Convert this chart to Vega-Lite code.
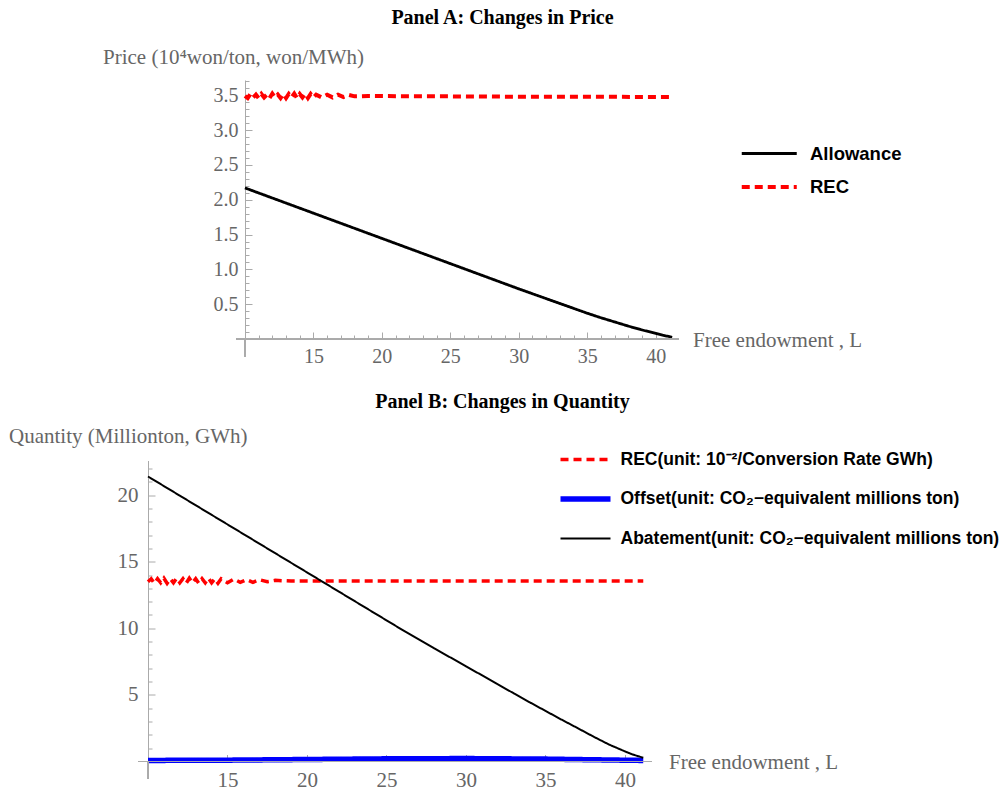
{
  "$schema": "https://vega.github.io/schema/vega-lite/v6.json",
  "background": "white",
  "padding": {"left": 8, "top": 8, "right": 2, "bottom": 2},
  "bounds": "flush",
  "spacing": 121.5,
  "resolve": {
    "scale": {"x": "independent", "y": "independent", "color": "independent", "strokeDash": "independent", "strokeWidth": "independent"},
    "legend": {"color": "independent", "strokeDash": "independent", "strokeWidth": "independent"}
  },
  "config": {
    "view": {"stroke": null},
    "axis": {
      "labelFont": "Liberation Serif",
      "titleFont": "Liberation Serif",
      "labelColor": "#666666",
      "titleColor": "#666666",
      "tickColor": "#aaaaaa",
      "domainColor": "#aaaaaa",
      "grid": false,
      "titleFontWeight": "normal",
      "labelOverlap": false,
      "labelFlush": false
    },
    "legend": {
      "labelFont": "Liberation Sans",
      "labelFontWeight": "bold",
      "labelColor": "black",
      "labelLimit": 0
    }
  },
  "datasets": {
    "priceA": [
      {"L": 10, "value": 2.17, "series": "Allowance"},
      {"L": 12, "value": 2.025, "series": "Allowance"},
      {"L": 14, "value": 1.88, "series": "Allowance"},
      {"L": 16, "value": 1.735, "series": "Allowance"},
      {"L": 18, "value": 1.59, "series": "Allowance"},
      {"L": 20, "value": 1.445, "series": "Allowance"},
      {"L": 22, "value": 1.3, "series": "Allowance"},
      {"L": 24, "value": 1.155, "series": "Allowance"},
      {"L": 26, "value": 1.01, "series": "Allowance"},
      {"L": 28, "value": 0.865, "series": "Allowance"},
      {"L": 30, "value": 0.72, "series": "Allowance"},
      {"L": 32, "value": 0.58, "series": "Allowance"},
      {"L": 34, "value": 0.44, "series": "Allowance"},
      {"L": 35, "value": 0.37, "series": "Allowance"},
      {"L": 36, "value": 0.305, "series": "Allowance"},
      {"L": 37, "value": 0.245, "series": "Allowance"},
      {"L": 38, "value": 0.185, "series": "Allowance"},
      {"L": 39, "value": 0.13, "series": "Allowance"},
      {"L": 40, "value": 0.08, "series": "Allowance"},
      {"L": 40.5, "value": 0.055, "series": "Allowance"},
      {"L": 41.2, "value": 0.025, "series": "Allowance"},
      {"L": 10.0, "value": 3.49, "series": "REC"},
      {"L": 10.2, "value": 3.46, "series": "REC"},
      {"L": 10.4, "value": 3.52, "series": "REC"},
      {"L": 10.6, "value": 3.47, "series": "REC"},
      {"L": 10.8, "value": 3.51, "series": "REC"},
      {"L": 11.0, "value": 3.46, "series": "REC"},
      {"L": 11.2, "value": 3.52, "series": "REC"},
      {"L": 11.4, "value": 3.47, "series": "REC"},
      {"L": 11.6, "value": 3.51, "series": "REC"},
      {"L": 11.8, "value": 3.46, "series": "REC"},
      {"L": 12.0, "value": 3.525, "series": "REC"},
      {"L": 12.2, "value": 3.47, "series": "REC"},
      {"L": 12.4, "value": 3.51, "series": "REC"},
      {"L": 12.6, "value": 3.46, "series": "REC"},
      {"L": 12.8, "value": 3.52, "series": "REC"},
      {"L": 13.0, "value": 3.46, "series": "REC"},
      {"L": 13.2, "value": 3.52, "series": "REC"},
      {"L": 13.4, "value": 3.47, "series": "REC"},
      {"L": 13.6, "value": 3.525, "series": "REC"},
      {"L": 13.8, "value": 3.46, "series": "REC"},
      {"L": 14.0, "value": 3.52, "series": "REC"},
      {"L": 14.2, "value": 3.47, "series": "REC"},
      {"L": 14.4, "value": 3.525, "series": "REC"},
      {"L": 14.6, "value": 3.46, "series": "REC"},
      {"L": 14.8, "value": 3.52, "series": "REC"},
      {"L": 15.0, "value": 3.47, "series": "REC"},
      {"L": 15.2, "value": 3.51, "series": "REC"},
      {"L": 15.6, "value": 3.47, "series": "REC"},
      {"L": 16.0, "value": 3.51, "series": "REC"},
      {"L": 16.4, "value": 3.47, "series": "REC"},
      {"L": 16.8, "value": 3.51, "series": "REC"},
      {"L": 17.2, "value": 3.475, "series": "REC"},
      {"L": 17.6, "value": 3.505, "series": "REC"},
      {"L": 18.0, "value": 3.485, "series": "REC"},
      {"L": 19.0, "value": 3.49, "series": "REC"},
      {"L": 25.0, "value": 3.485, "series": "REC"},
      {"L": 30.0, "value": 3.48, "series": "REC"},
      {"L": 35.0, "value": 3.48, "series": "REC"},
      {"L": 41.2, "value": 3.475, "series": "REC"}
    ],
    "qtyB": [
      {"L": 10.0, "value": 13.5, "series": "REC"},
      {"L": 10.2, "value": 13.72, "series": "REC"},
      {"L": 10.4, "value": 13.38, "series": "REC"},
      {"L": 10.6, "value": 13.72, "series": "REC"},
      {"L": 10.8, "value": 13.42, "series": "REC"},
      {"L": 11.0, "value": 13.76, "series": "REC"},
      {"L": 11.2, "value": 13.38, "series": "REC"},
      {"L": 11.4, "value": 13.72, "series": "REC"},
      {"L": 11.6, "value": 13.42, "series": "REC"},
      {"L": 11.8, "value": 13.76, "series": "REC"},
      {"L": 12.0, "value": 13.42, "series": "REC"},
      {"L": 12.2, "value": 13.72, "series": "REC"},
      {"L": 12.4, "value": 13.38, "series": "REC"},
      {"L": 12.6, "value": 13.76, "series": "REC"},
      {"L": 12.8, "value": 13.42, "series": "REC"},
      {"L": 13.0, "value": 13.72, "series": "REC"},
      {"L": 13.2, "value": 13.38, "series": "REC"},
      {"L": 13.4, "value": 13.72, "series": "REC"},
      {"L": 13.6, "value": 13.42, "series": "REC"},
      {"L": 13.8, "value": 13.76, "series": "REC"},
      {"L": 14.0, "value": 13.42, "series": "REC"},
      {"L": 14.2, "value": 13.72, "series": "REC"},
      {"L": 14.4, "value": 13.38, "series": "REC"},
      {"L": 14.6, "value": 13.72, "series": "REC"},
      {"L": 15.0, "value": 13.42, "series": "REC"},
      {"L": 15.4, "value": 13.7, "series": "REC"},
      {"L": 15.8, "value": 13.45, "series": "REC"},
      {"L": 16.2, "value": 13.66, "series": "REC"},
      {"L": 16.6, "value": 13.45, "series": "REC"},
      {"L": 17.0, "value": 13.65, "series": "REC"},
      {"L": 17.5, "value": 13.5, "series": "REC"},
      {"L": 18.0, "value": 13.6, "series": "REC"},
      {"L": 19.0, "value": 13.55, "series": "REC"},
      {"L": 25.0, "value": 13.55, "series": "REC"},
      {"L": 30.0, "value": 13.55, "series": "REC"},
      {"L": 35.0, "value": 13.55, "series": "REC"},
      {"L": 41.15, "value": 13.55, "series": "REC"},
      {"L": 10, "value": 0.08, "series": "Offset"},
      {"L": 15, "value": 0.1, "series": "Offset"},
      {"L": 20, "value": 0.15, "series": "Offset"},
      {"L": 25, "value": 0.2, "series": "Offset"},
      {"L": 30, "value": 0.22, "series": "Offset"},
      {"L": 35, "value": 0.18, "series": "Offset"},
      {"L": 38, "value": 0.13, "series": "Offset"},
      {"L": 41.15, "value": 0.08, "series": "Offset"},
      {"L": 10, "value": 21.4, "series": "Abatement"},
      {"L": 12, "value": 19.96, "series": "Abatement"},
      {"L": 14, "value": 18.52, "series": "Abatement"},
      {"L": 16, "value": 17.08, "series": "Abatement"},
      {"L": 18, "value": 15.64, "series": "Abatement"},
      {"L": 20, "value": 14.2, "series": "Abatement"},
      {"L": 22, "value": 12.76, "series": "Abatement"},
      {"L": 24, "value": 11.32, "series": "Abatement"},
      {"L": 26, "value": 9.88, "series": "Abatement"},
      {"L": 28, "value": 8.5, "series": "Abatement"},
      {"L": 30, "value": 7.15, "series": "Abatement"},
      {"L": 32, "value": 5.8, "series": "Abatement"},
      {"L": 33, "value": 5.12, "series": "Abatement"},
      {"L": 34, "value": 4.45, "series": "Abatement"},
      {"L": 35, "value": 3.8, "series": "Abatement"},
      {"L": 36, "value": 3.15, "series": "Abatement"},
      {"L": 37, "value": 2.52, "series": "Abatement"},
      {"L": 38, "value": 1.88, "series": "Abatement"},
      {"L": 39, "value": 1.27, "series": "Abatement"},
      {"L": 40, "value": 0.76, "series": "Abatement"},
      {"L": 40.5, "value": 0.52, "series": "Abatement"},
      {"L": 41.15, "value": 0.28, "series": "Abatement"}
    ]
  },
  "vconcat": [
    {
      "width": 531,
      "height": 259,
      "title": {
        "text": "Panel A: Changes in Price",
        "font": "Liberation Serif",
        "fontSize": 20,
        "fontWeight": "bold",
        "color": "black",
        "anchor": "middle",
        "frame": "group",
        "baseline": "middle",
        "offset": 8,
        "dx": 89
      },
      "data": {"name": "priceA"},
      "resolve": {"axis": {"x": "independent", "y": "independent"}},
      "layer": [
        {
          "mark": {"type": "line", "clip": false},
          "encoding": {
            "x": {
              "field": "L",
              "type": "quantitative",
              "scale": {"domain": [2.92, 41.7], "nice": false, "zero": false},
              "axis": {
                "orient": "bottom",
                "title": "Free endowment , L",
                "titleFontSize": 21,
                "titleAngle": 0,
                "titleAlign": "left",
                "titleBaseline": "middle",
                "titleX": 544.5,
                "titleY": 1.5,
                "domain": false,
                "labelOverlap": false,
                "values": [15, 20, 25, 30, 35, 40],
                "tickSize": -7,
                "labelFontSize": 20,
                "labelPadding": 14.5
              }
            },
            "y": {
              "field": "value",
              "type": "quantitative",
              "scale": {"domain": [0, 3.72], "nice": false, "zero": false},
              "axis": {
                "orient": "left",
                "title": "Price (10⁴won/ton, won/MWh)",
                "titleFontSize": 21,
                "titleAngle": 0,
                "titleAlign": "left",
                "titleBaseline": "middle",
                "titleX": -142.5,
                "titleY": -23,
                "offset": -97,
                "labelOverlap": false,
                "values": [0.5, 1.0, 1.5, 2.0, 2.5, 3.0, 3.5],
                "format": ".1f",
                "tickSize": -7,
                "labelFontSize": 20,
                "labelPadding": 14
              }
            },
            "color": {
              "field": "series",
              "type": "nominal",
              "scale": {"domain": ["Allowance", "REC"], "range": ["#000000", "#ff0000"]},
              "legend": {
                "orient": "none", "legendX": 605.25, "legendY": 58, "title": null,
                "symbolType": "M-2,0H2", "symbolSize": 756.25,
                "labelFontSize": 18.5, "labelOffset": 24.75, "rowPadding": 8
              }
            },
            "strokeDash": {
              "field": "series",
              "type": "nominal",
              "scale": {"domain": ["Allowance", "REC"], "range": [[1, 0], [8, 5]]},
              "legend": {
                "orient": "none", "legendX": 605.25, "legendY": 58, "title": null,
                "symbolType": "M-2,0H2", "symbolSize": 756.25,
                "labelFontSize": 18.5, "labelOffset": 24.75, "rowPadding": 8
              }
            },
            "strokeWidth": {
              "field": "series",
              "type": "nominal",
              "scale": {"type": "ordinal", "domain": ["Allowance", "REC"], "range": [2.8, 4]},
              "legend": {
                "orient": "none", "legendX": 605.25, "legendY": 58, "title": null,
                "symbolType": "M-2,0H2", "symbolSize": 756.25,
                "labelFontSize": 18.5, "labelOffset": 24.75, "rowPadding": 8
              }
            }
          }
        },
        {
          "mark": {"type": "rule", "color": "#aaaaaa", "strokeWidth": 1},
          "encoding": {
            "x": {
              "datum": 9.4,
              "type": "quantitative",
              "axis": {
                "orient": "bottom",
                "title": null,
                "labels": false,
                "domain": false,
                "tickSize": -4,
                "values": [11,12,13,14,16,17,18,19,21,22,23,24,26,27,28,29,31,32,33,34,36,37,38,39,41]
              }
            },
            "x2": {"datum": 41.7},
            "y": {"datum": 0, "type": "quantitative", "axis": null}
          }
        },
        {
          "mark": {"type": "rule", "color": "#aaaaaa", "strokeWidth": 1},
          "encoding": {
            "x": {"datum": 10, "type": "quantitative", "axis": null},
            "y": {
              "datum": 0,
              "type": "quantitative",
              "axis": {
                "orient": "left",
                "offset": -97,
                "title": null,
                "labels": false,
                "domain": false,
                "tickSize": -4,
                "values": [0.1,0.2,0.3,0.4,0.6,0.7,0.8,0.9,1.1,1.2,1.3,1.4,1.6,1.7,1.8,1.9,2.1,2.2,2.3,2.4,2.6,2.7,2.8,2.9,3.1,3.2,3.3,3.4,3.6,3.7]
              }
            },
            "y2": {"datum": -0.25}
          }
        }
      ]
    },
    {
      "width": 504,
      "height": 301,
      "title": {
        "text": "Panel B: Changes in Quantity",
        "font": "Liberation Serif",
        "fontSize": 20,
        "fontWeight": "bold",
        "color": "black",
        "anchor": "middle",
        "frame": "group",
        "baseline": "middle",
        "offset": 4,
        "dx": 102.5
      },
      "data": {"name": "qtyB"},
      "resolve": {"axis": {"x": "independent", "y": "independent"}},
      "layer": [
        {
          "mark": {"type": "line", "clip": false},
          "encoding": {
            "x": {
              "field": "L",
              "type": "quantitative",
              "scale": {"domain": [10, 41.7], "nice": false, "zero": false},
              "axis": {
                "orient": "bottom",
                "title": "Free endowment , L",
                "titleFontSize": 21,
                "titleAngle": 0,
                "titleAlign": "left",
                "titleBaseline": "middle",
                "titleX": 520.5,
                "titleY": 1,
                "domain": false,
                "labelOverlap": false,
                "values": [15, 20, 25, 30, 35, 40],
                "tickSize": -7,
                "labelFontSize": 21,
                "labelPadding": 14.5
              }
            },
            "y": {
              "field": "value",
              "type": "quantitative",
              "scale": {"domain": [0, 22.6], "nice": false, "zero": false},
              "axis": {
                "orient": "left",
                "title": "Quantity (Millionton, GWh)",
                "titleFontSize": 21,
                "titleAngle": 0,
                "titleAlign": "left",
                "titleBaseline": "middle",
                "titleX": -139.5,
                "titleY": -24,
                "labelOverlap": false,
                "values": [5, 10, 15, 20],
                "tickSize": -7,
                "labelFontSize": 21,
                "labelPadding": 17
              }
            },
            "color": {
              "field": "series",
              "type": "nominal",
              "scale": {"domain": ["REC", "Offset", "Abatement"], "range": ["#ff0000", "#0000ff", "#000000"]},
              "legend": {
                "orient": "none", "legendX": 409.5, "legendY": -28, "title": null,
                "symbolType": "stroke", "symbolSize": 2500,
                "labelFontSize": 17.5, "labelOffset": 7, "rowPadding": 2.5,
                "labelExpr": "datum.label === 'REC' ? 'REC(unit: 10⁻²/Conversion Rate GWh)' : datum.label === 'Offset' ? 'Offset(unit: CO₂−equivalent millions ton)' : 'Abatement(unit: CO₂−equivalent millions ton)'"
              }
            },
            "strokeDash": {
              "field": "series",
              "type": "nominal",
              "scale": {"domain": ["REC", "Offset", "Abatement"], "range": [[8, 5], [1, 0], [1, 0]]},
              "legend": {
                "orient": "none", "legendX": 409.5, "legendY": -28, "title": null,
                "symbolType": "stroke", "symbolSize": 2500,
                "labelFontSize": 17.5, "labelOffset": 7, "rowPadding": 2.5,
                "labelExpr": "datum.label === 'REC' ? 'REC(unit: 10⁻²/Conversion Rate GWh)' : datum.label === 'Offset' ? 'Offset(unit: CO₂−equivalent millions ton)' : 'Abatement(unit: CO₂−equivalent millions ton)'"
              }
            },
            "strokeWidth": {
              "field": "series",
              "type": "nominal",
              "scale": {"type": "ordinal", "domain": ["REC", "Offset", "Abatement"], "range": [3.5, 5.5, 2]},
              "legend": {
                "orient": "none", "legendX": 409.5, "legendY": -28, "title": null,
                "symbolType": "stroke", "symbolSize": 2500,
                "labelFontSize": 17.5, "labelOffset": 7, "rowPadding": 2.5,
                "labelExpr": "datum.label === 'REC' ? 'REC(unit: 10⁻²/Conversion Rate GWh)' : datum.label === 'Offset' ? 'Offset(unit: CO₂−equivalent millions ton)' : 'Abatement(unit: CO₂−equivalent millions ton)'"
              }
            }
          }
        },
        {
          "mark": {"type": "rule", "color": "#aaaaaa", "strokeWidth": 1},
          "encoding": {
            "x": {
              "datum": 9.4,
              "type": "quantitative",
              "axis": {
                "orient": "bottom",
                "title": null,
                "labels": false,
                "domain": false,
                "tickSize": -4,
                "values": [11,12,13,14,16,17,18,19,21,22,23,24,26,27,28,29,31,32,33,34,36,37,38,39,41]
              }
            },
            "x2": {"datum": 41.7},
            "y": {"datum": 0, "type": "quantitative", "axis": null}
          }
        },
        {
          "mark": {"type": "rule", "color": "#aaaaaa", "strokeWidth": 1},
          "encoding": {
            "x": {"datum": 10, "type": "quantitative", "axis": null},
            "y": {
              "datum": 0,
              "type": "quantitative",
              "axis": {
                "orient": "left",
                "title": null,
                "labels": false,
                "domain": false,
                "tickSize": -4,
                "values": [1,2,3,4,6,7,8,9,11,12,13,14,16,17,18,19,21,22]
              }
            },
            "y2": {"datum": -1.3}
          }
        }
      ]
    }
  ]
}
